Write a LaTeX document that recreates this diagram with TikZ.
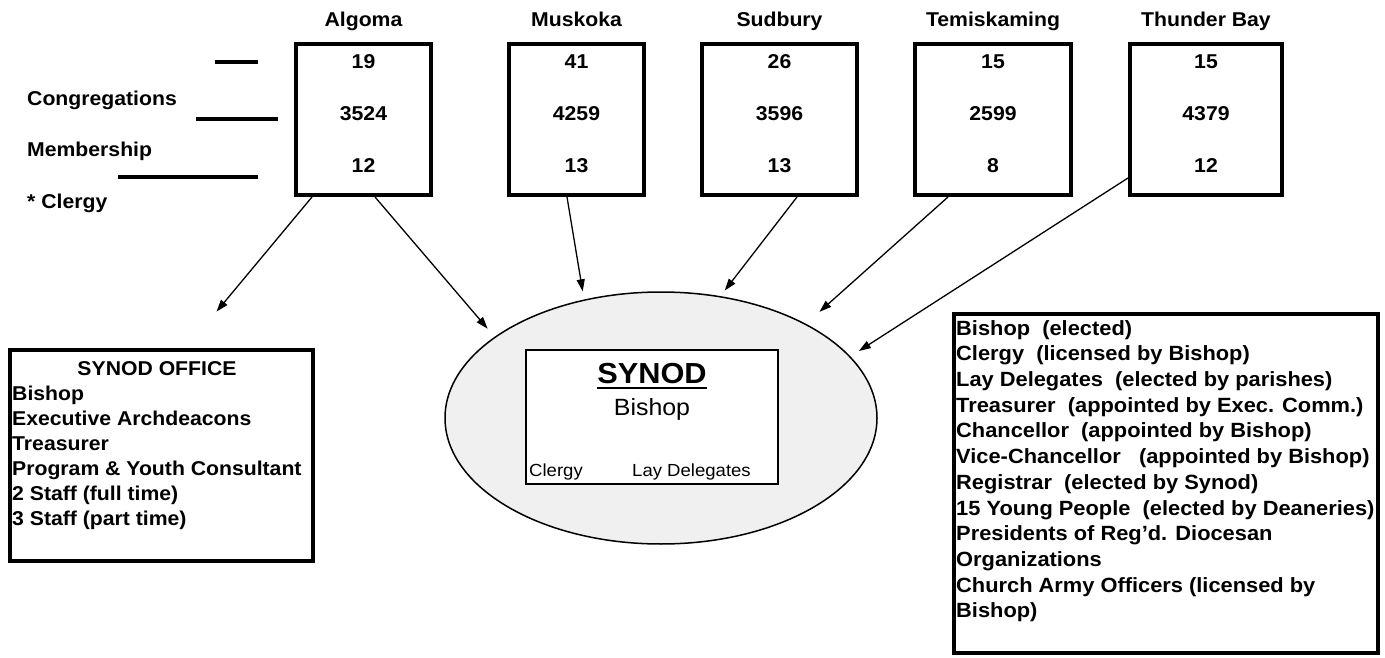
\documentclass[tikz,border=0pt]{standalone}
\usepackage{fontspec}
\setmainfont{Liberation Sans}[FakeStretch=1.06] % a little wider, as in the scan
\usetikzlibrary{arrows.meta,shapes.geometric}

\begin{document}
\begin{tikzpicture}[x=1pt,y=-1pt,
    dbox/.style={draw,line width=4pt,minimum height=151pt,inner sep=0pt},
    lbl/.style={font=\bfseries\fontsize{20}{24}\selectfont,inner sep=0pt},
    arr/.style={-{Triangle[length=12pt,width=8pt]},line width=1.3pt},
    listbox/.style={draw,line width=4pt,inner sep=0pt},
    listtxt/.style={font=\bfseries\fontsize{20}{25}\selectfont,align=left,inner sep=0pt}]

\useasboundingbox (0,0) rectangle (1385,658);

\foreach \nm/\cx/\w/\lab/\cg/\mb/\cl in {algoma/363.5/135/Algoma/19/3524/12,muskoka/576.5/135/Muskoka/41/4259/13,sudbury/779.5/155/Sudbury/26/3596/13,temiskaming/993/156/Temiskaming/15/2599/8,thunderbay/1206/152/Thunder Bay/15/4379/12}
{
    \node[dbox,minimum width=\w] (\nm) at (\cx,119.5) {};
    \node[lbl,anchor=base] (\nm-name) at (\cx,27) {\lab};
    \node[lbl,anchor=base] (\nm-cong) at (\cx,69) {\cg};
    \node[lbl,anchor=base] (\nm-memb) at (\cx,121) {\mb};
    \node[lbl,anchor=base] (\nm-clergy) at (\cx,172) {\cl};
}

\node[lbl,anchor=base west] (conglbl) at (27,106) {Congregations};
\node[lbl,anchor=base west] (memblbl) at (27,157) {Membership};
\node[lbl,anchor=base west] (clergylbl) at (27,208) {* Clergy};
\draw[line width=4pt] (215,62) -- (258,62);
\draw[line width=4pt] (196,119) -- (278,119);
\draw[line width=4pt] (118,177) -- (258,177);

\node[ellipse,draw,line width=1.5pt,fill=gray!12,minimum width=432pt,minimum height=252pt,inner sep=0pt] (synod) at (661,418) {};
\node[draw,line width=1.5pt,fill=white,minimum width=252pt,minimum height=134pt,inner sep=0pt] (synodbox) at (652,417) {};
\node[font=\bfseries\fontsize{29}{34}\selectfont,inner sep=0pt,anchor=base] (synodttl) at (652,383) {SYNOD};
\draw[line width=2.4pt] ([yshift=-5pt]synodttl.base west) -- ([yshift=-5pt]synodttl.base east);
\node[font=\fontsize{23.5}{28}\selectfont,inner sep=0pt,anchor=base] (synodbishop) at (652,415) {Bishop};
\node[font=\fontsize{17.5}{21}\selectfont,inner sep=0pt,anchor=base west] (synodclergy) at (529,476) {Clergy};
\node[font=\fontsize{17.5}{21}\selectfont,inner sep=0pt,anchor=base west] (synodlay) at (632,476) {Lay Delegates};

\node[listbox,minimum width=303pt,minimum height=211pt] (office) at (161.5,455.5) {};
\node[lbl,anchor=base] (officettl) at (157,375) {SYNOD OFFICE};
\node[listtxt,anchor=north west] (officetxt) at ([xshift=4pt,yshift=-37.4pt]office.north west) {Bishop\\Executive Archdeacons\\Treasurer\\Program \& Youth Consultant\\2 Staff (full time)\\3 Staff (part time)};

\node[listbox,minimum width=424pt,minimum height=339pt] (roles) at (1166,483.5) {};
\node[listtxt,font=\bfseries\fontsize{20.6}{25.7}\selectfont,anchor=north west] (rolestxt) at ([xshift=4pt,yshift=-8pt]roles.north west) {Bishop\ \ (elected)\\Clergy\ \ (licensed by Bishop)\\Lay Delegates\ \ (elected by parishes)\\Treasurer\ \ (appointed by Exec. Comm.)\\Chancellor\ \ (appointed by Bishop)\\Vice-Chancellor\ \ \ (appointed by Bishop)\\Registrar\ \ (elected by Synod)\\15 Young People\ \ (elected by Deaneries)\\Presidents of Reg'd. Diocesan\\Organizations\\Church Army Officers (licensed by\\Bishop)};

\draw[arr,shorten >=47.4pt] ([xshift=-51.5pt]algoma.south) -- ([xshift=24.7pt]office.north);
\draw[arr,shorten >=10.7pt] ([xshift=11.5pt]algoma.south) -- (synod.154.5);
\draw[arr,shorten >=8.3pt] ([xshift=-9.5pt]muskoka.south) -- (synod.123);
\draw[arr,shorten >=7pt] ([xshift=17.5pt]sudbury.south) -- (synod.64.6);
\draw[arr,shorten >=18pt] ([xshift=-45pt]temiskaming.south) -- (synod.33.3);
\draw[arr,shorten >=10pt] ([yshift=-58.5pt]thunderbay.west) -- (synod.18.5);
\end{tikzpicture}
\end{document}
